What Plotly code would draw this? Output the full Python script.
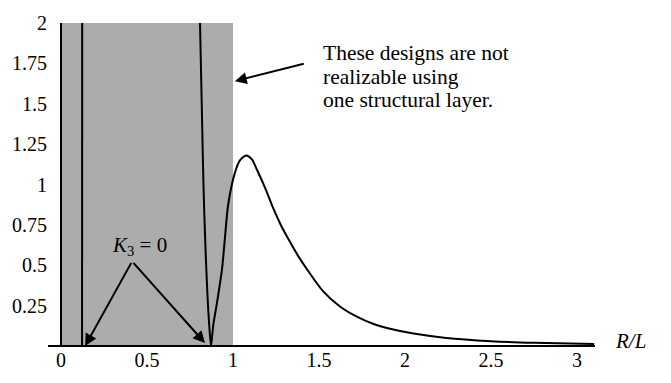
import plotly.graph_objects as go

# Data
curve_r = [0.808, 0.818, 0.828, 0.840, 0.852, 0.862, 0.872, 0.885, 0.907, 0.936, 0.953,
           0.971, 1.01, 1.04, 1.076, 1.11, 1.14, 1.19, 1.233, 1.28, 1.331, 1.38, 1.43, 1.523,
           1.622, 1.72, 1.814, 1.913, 2.05, 2.24, 2.5, 2.75, 3.1]
curve_k = [2.0, 1.5, 1.0, 0.6, 0.3, 0.12, 0.0, 0.13, 0.27, 0.476, 0.67,
           0.87, 1.07, 1.15, 1.18, 1.155, 1.09, 0.97, 0.855, 0.745, 0.645, 0.555, 0.475, 0.34,
           0.245, 0.182, 0.138, 0.107, 0.077, 0.05, 0.03, 0.02, 0.012]
left_r = [0.122, 0.123]
left_k = [0.0, 2.0]

x_ticks = [0, 0.5, 1, 1.5, 2, 2.5, 3]
x_tick_labels = ["0", "0.5", "1", "1.5", "2", "2.5", "3"]
y_ticks = [0.25, 0.5, 0.75, 1, 1.25, 1.5, 1.75, 2]
y_tick_labels = ["0.25", "0.5", "0.75", "1", "1.25", "1.5", "1.75", "2"]

note_lines = ["These designs are not", "realizable using", "one structural layer."]
note_y = [1.815, 1.666, 1.523]

shade_x = [0, 1]
shade_y = [0, 2]

FONT = "Liberation Serif"

fig = go.Figure()
fig.add_trace(go.Scatter(x=curve_r, y=curve_k, mode="lines",
                         line=dict(color="black", width=2, shape="spline", smoothing=0.7),
                         showlegend=False))
fig.add_trace(go.Scatter(x=left_r, y=left_k, mode="lines",
                         line=dict(color="black", width=2), showlegend=False))

fig.add_shape(type="rect", x0=shade_x[0], x1=shade_x[1], y0=shade_y[0], y1=shade_y[1],
              fillcolor="#acacac", line=dict(width=0), layer="below")

fig.update_layout(
    width=671, height=383,
    margin=dict(l=48, r=76, t=17, b=30),
    plot_bgcolor="white", paper_bgcolor="white",
    font=dict(family=FONT, size=20, color="black"),
    xaxis=dict(range=[-0.076, 3.105], showgrid=False, zeroline=True, zerolinecolor="black",
               zerolinewidth=1.5, showline=False, tickmode="array", tickvals=x_ticks,
               ticktext=x_tick_labels, ticks="", tickfont=dict(family=FONT, size=20)),
    yaxis=dict(range=[0, 2.0], showgrid=False, zeroline=True, zerolinecolor="black",
               zerolinewidth=2, showline=False, tickmode="array", tickvals=y_ticks,
               ticktext=y_tick_labels, ticks="", tickfont=dict(family=FONT, size=20)),
)

# Text annotations
for line, yv in zip(note_lines, note_y):
    fig.add_annotation(x=1.51, y=yv, xref="x", yref="y", xanchor="left", yanchor="middle",
                       text=line, showarrow=False, font=dict(family=FONT, size=21.5))
fig.add_annotation(x=1.01, y=1.64, ax=1.42, ay=1.75, axref="x", ayref="y",
                   xref="x", yref="y", text="", showarrow=True, arrowhead=2,
                   arrowsize=1.2, arrowwidth=2, arrowcolor="black")

fig.add_annotation(x=0.455, y=0.62, xref="x", yref="y", text="<i>K</i><sub>3</sub> = 0",
                   showarrow=False, font=dict(family=FONT, size=21))
fig.add_annotation(x=0.14, y=0.0, ax=0.413, ay=0.524, axref="x", ayref="y",
                   xref="x", yref="y", text="", showarrow=True, arrowhead=2,
                   arrowsize=1.2, arrowwidth=2, arrowcolor="black")
fig.add_annotation(x=0.837, y=0.018, ax=0.413, ay=0.524, axref="x", ayref="y",
                   xref="x", yref="y", text="", showarrow=True, arrowhead=2,
                   arrowsize=1.2, arrowwidth=2, arrowcolor="black")

fig.add_annotation(x=1.0, y=0.0, xref="paper", yref="y", xanchor="left", yanchor="middle",
                   xshift=18, yshift=5, text="<i>R/L</i>", showarrow=False,
                   font=dict(family=FONT, size=21))

fig.write_html("out.html")
